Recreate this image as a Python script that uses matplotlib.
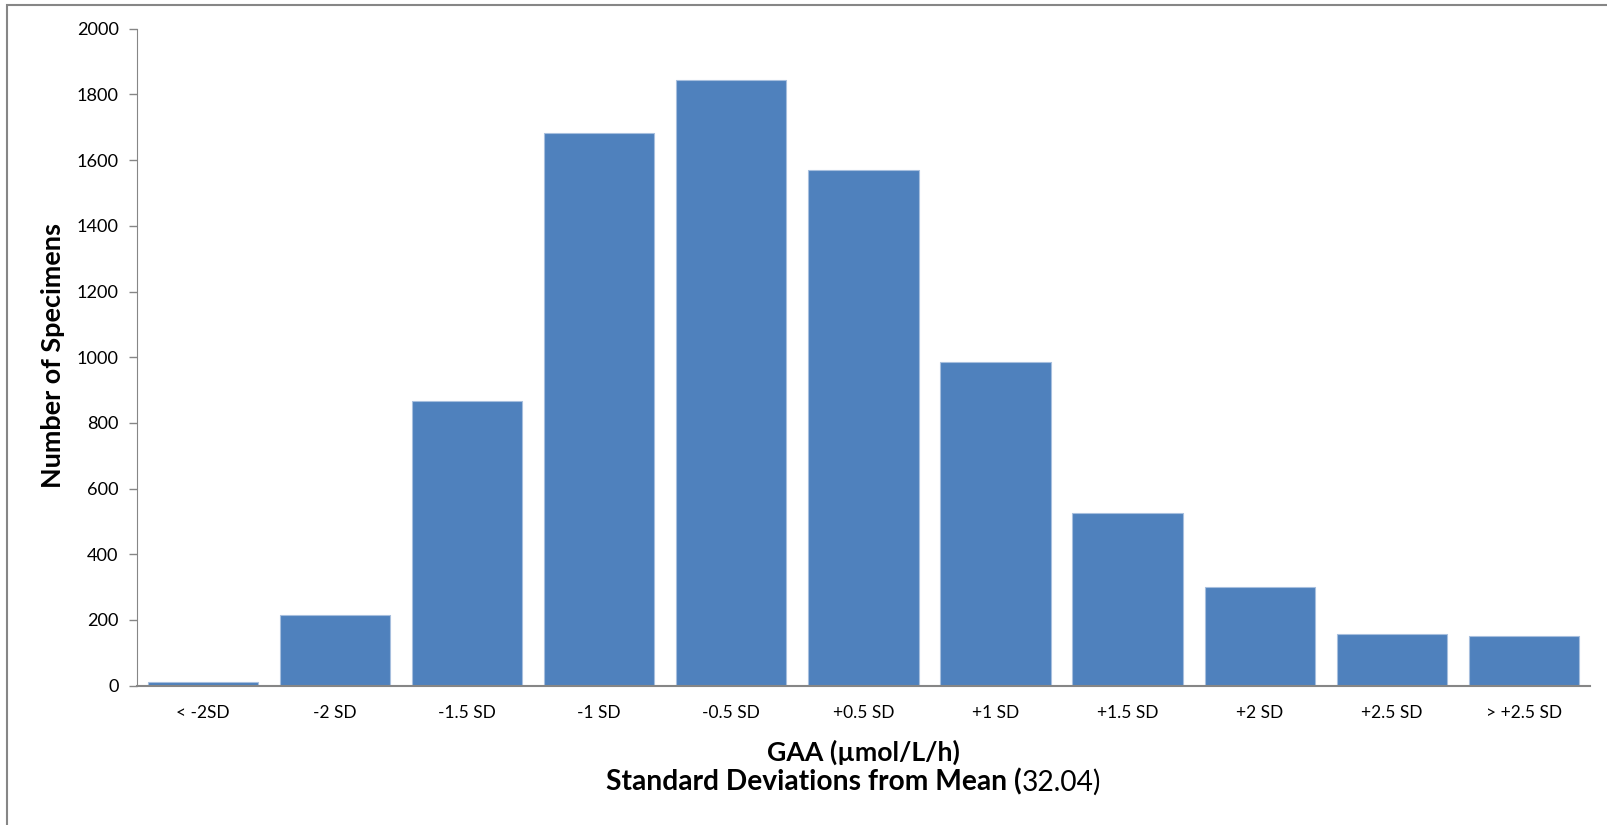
import numpy as np
import matplotlib.pyplot as plt
from matplotlib.patches import Rectangle

categories = ["< -2SD", "-2 SD", "-1.5 SD", "-1 SD", "-0.5 SD", "+0.5 SD",
              "+1 SD", "+1.5 SD", "+2 SD", "+2.5 SD", "> +2.5 SD"]
counts = [10, 214, 866, 1681, 1844, 1569, 984, 527, 300, 156, 151]
yticks = [0, 200, 400, 600, 800, 1000, 1200, 1400, 1600, 1800, 2000]

plt.rcParams['font.family'] = ['Lato', 'DejaVu Sans']

W, H = 1608, 825
fig = plt.figure(figsize=(W / 100, H / 100), dpi=100)
ax = fig.add_axes([136.7 / W, 1 - 685.7 / H, (1590 - 136.7) / W, (685.7 - 28.7) / H])
renderer = fig.canvas.get_renderer()


def fit_size(txt, target, bold=False):
    # font size that makes txt about target pixels wide
    t = fig.text(0, 0, txt, fontsize=10, fontweight="bold" if bold else "normal")
    w = t.get_window_extent(renderer).width
    t.remove()
    return 10 * target / w


x = np.arange(len(categories))
ax.bar(x, counts, width=0.835, color="#4F81BD", edgecolor="#A7BFDE", linewidth=0.8)

tick_fs = fit_size("> +2.5 SD", 76)
ytick_fs = fit_size("2000", 42)

ax.set_xlim(-0.5, len(categories) - 0.5)
ax.set_ylim(0, 2000)
ax.set_yticks(yticks)
ax.set_yticklabels([str(v) for v in yticks], fontsize=ytick_fs)
ax.set_xticks(x)
ax.set_xticklabels(categories, fontsize=tick_fs)
ax.tick_params(axis='x', length=0, pad=14)
ax.tick_params(axis='y', length=6, width=1, color="#868686", pad=7)

for s in ["top", "right"]:
    ax.spines[s].set_visible(False)
ax.spines["left"].set_color("#868686")
ax.spines["bottom"].set_color("#868686")
ax.spines["bottom"].set_linewidth(1.5)

ylab_fs = fit_size("Number of Specimens", 266, bold=True)
fig.text(53 / W, 1 - 355 / H, "Number of Specimens", fontsize=ylab_fs, fontweight="bold",
         rotation=90, ha="center", va="center")

# second line: bold part + regular number, centred as a whole
part_a, part_b = "Standard Deviations from Mean (", "32.04)"
t1 = fig.text(0, 1 - 782 / H, part_a, fontsize=10, fontweight="bold", ha="left", va="center")
t2 = fig.text(0, 1 - 782 / H, part_b, fontsize=10, ha="left", va="center")
total = t1.get_window_extent(renderer).width + t2.get_window_extent(renderer).width
fs2 = 10 * 495 / total
t1.set_fontsize(fs2)
t2.set_fontsize(fs2)
w1 = t1.get_window_extent(renderer).width
w2 = t2.get_window_extent(renderer).width
start = 853.5 - (w1 + w2) / 2
t1.set_x(start / W)
t2.set_x((start + w1) / W)

lab1 = "GAA (\u00b5mol/L/h)"
fig.text(863.5 / W, 1 - 752 / H, lab1, fontsize=min(fs2, fit_size(lab1, 193, bold=True)),
         fontweight="bold", ha="center", va="center")

# outer chart border (left and top visible)
fig.patches.append(Rectangle((7 / W, -0.01), 1.02 - 7 / W, 1 - 5 / H + 0.01,
                             transform=fig.transFigure, fill=False,
                             edgecolor="#868686", linewidth=1.5))

fig.savefig("out.png", dpi=100, facecolor="white")
